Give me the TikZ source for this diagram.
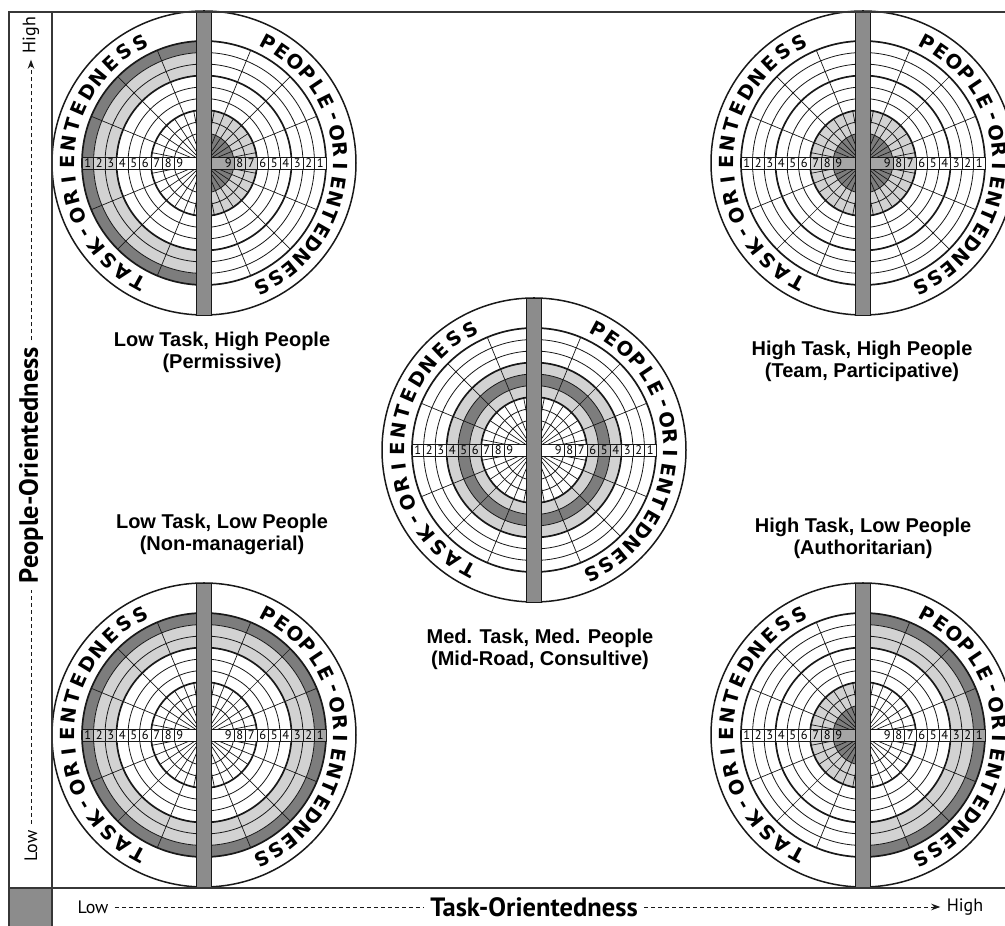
\documentclass[tikz,border=0pt]{standalone}
\usepackage{fontspec}
\setmainfont{Liberation Sans}
\newfontfamily\axisfont{PT Sans}
\newfontfamily\arcfont{DejaVu Sans}
\usepackage{tikz}
\usetikzlibrary{arrows.meta}
\definecolor{inkdark}{RGB}{25,25,25}
\definecolor{framegray}{RGB}{55,55,55}
\definecolor{ringdark}{RGB}{125,125,125}
\definecolor{ringlight}{RGB}{210,210,210}
\definecolor{barfill}{RGB}{140,140,140}
\definecolor{celldark}{RGB}{165,165,165}
\tikzset{
  frameline/.style={draw=framegray, line width=2.6pt},
  rimline/.style={draw=inkdark, line width=1.5pt},
  ringline/.style={draw=inkdark, line width=0.8pt},
  boldring/.style={draw=inkdark, line width=1.7pt},
  spoke/.style={draw=inkdark, line width=0.7pt},
  bandd/.style={fill=ringdark},
  bandl/.style={fill=ringlight},
  bandw/.style={fill=white},
  celld/.style={fill=celldark, draw=inkdark, line width=0.6pt},
  celll/.style={fill=ringlight, draw=inkdark, line width=0.6pt},
  cellw/.style={fill=white, draw=inkdark, line width=0.6pt},
  cellnum/.style={font=\axisfont\fontsize{12.5}{12.5}\selectfont, inner sep=0pt},
  scorebar/.style={fill=barfill, draw=inkdark, line width=0.6pt},
  arcletter/.style={font=\arcfont\bfseries\fontsize{19.5}{19.5}\selectfont, inner sep=0pt},
  caption/.style={font=\bfseries\fontsize{20}{22}\selectfont, align=center},
  axistitle/.style={font=\axisfont\bfseries\fontsize{26.5}{26.5}\selectfont},
  axisend/.style={font=\axisfont\fontsize{18}{18}\selectfont},
  dashaxis/.style={dashed, dash pattern=on 4pt off 3pt, line width=0.8pt,
    draw=inkdark, shorten <=3pt, shorten >=3pt},
  axisarrow/.style={-{Stealth[length=9pt, width=6.5pt]}},
  pics/wheel/.style 2 args={code={
    % disc
    \fill[white] (0,0) circle[radius=152pt];
    % task half
    \foreach \sh [count=\k] in {#1}{
      \pgfmathsetmacro\ro{122-11.5*(\k-1)}
      \pgfmathsetmacro\ri{\k<9 ? 122-11.5*\k : 0.01}
      \fill[band\sh] (90:\ro pt) arc[start angle=90, end angle=270, radius=\ro pt]
        -- (270:\ri pt) arc[start angle=270, end angle=90, radius=\ri pt] -- cycle;
    }
    % people half
    \foreach \sh [count=\k] in {#2}{
      \pgfmathsetmacro\ro{122-11.5*(\k-1)}
      \pgfmathsetmacro\ri{\k<9 ? 122-11.5*\k : 0.01}
      \fill[band\sh] (-90:\ro pt) arc[start angle=-90, end angle=90, radius=\ro pt]
        -- (90:\ri pt) arc[start angle=90, end angle=-90, radius=\ri pt] -- cycle;
    }
    % rings and spokes
    \foreach \r in {110.5,99,76,64.5,41.5,30}
      \draw[ringline] (0,0) circle[radius=\r pt];
    \foreach \r in {122,87.5,53}
      \draw[boldring] (0,0) circle[radius=\r pt];
    \foreach \a in {22.5,45,67.5,112.5,135,157.5,202.5,225,247.5,292.5,315,337.5}
      \draw[spoke] (0,0) -- (\a:122pt);
    \foreach \a in {11.25,33.75,56.25,78.75,101.25,123.75,146.25,168.75,
                    191.25,213.75,236.25,258.75,281.25,303.75,326.25,348.75}
      \draw[spoke] (0,0) -- (\a:53pt);
    \draw[rimline] (0,0) circle[radius=152pt];
    % numbered strip
    \foreach \sh [count=\k] in {#1}{
      \pgfmathsetmacro\ro{122-11.5*(\k-1)}
      \pgfmathsetmacro\ri{\k<9 ? 122-11.5*\k : 7.5}
      \pgfmathsetmacro\rm{\k<9 ? (\ro+\ri)/2 : 24.25}
      \filldraw[cell\sh] (-\ro pt,-6pt) rectangle (-\ri pt,6pt);
      \node[cellnum] (tnum\k) at (-\rm pt,0) {\k};
    }
    \foreach \sh [count=\k] in {#2}{
      \pgfmathsetmacro\ro{122-11.5*(\k-1)}
      \pgfmathsetmacro\ri{\k<9 ? 122-11.5*\k : 7.5}
      \pgfmathsetmacro\rm{\k<9 ? (\ro+\ri)/2 : 24.25}
      \filldraw[cell\sh] (\ri pt,-6pt) rectangle (\ro pt,6pt);
      \node[cellnum] (pnum\k) at (\rm pt,0) {\k};
    }
    % bar
    \filldraw[scorebar] (-7.5pt,-152pt) rectangle (7.5pt,152pt);
    % lettering
    \foreach \c [count=\i from 0] in {T,A,S,K,-,O,R,I,E,N,T,E,D,N,E,S,S}{
      \pgfmathsetmacro\a{241-7.6875*\i}
      \node[arcletter, rotate=\a-90] (tlet\i) at (\a:136.5pt) {\c};
    }
    \foreach \c [count=\i from 0] in {P,E,O,P,L,E,-,O,R,I,E,N,T,E,D,N,E,S,S}{
      \pgfmathsetmacro\a{62-7.0556*\i}
      \node[arcletter, rotate=\a-90] (plet\i) at (\a:136.5pt) {\c};
    }
  }}
}

\begin{document}
\begin{tikzpicture}[x=1pt, y=1pt]
  \useasboundingbox (0,0) rectangle (1005,926);
  \clip (0,0) rectangle (1005,926);
  \fill[white] (0,0) rectangle (1005,926);

  % wheels
  \pic (lowhigh) at (204,763) {wheel={d,l,l,w,w,w,w,w,w}{w,w,w,w,w,w,l,l,d}};
  \pic (highhigh) at (863,763) {wheel={w,w,w,w,w,w,l,l,d}{w,w,w,w,w,w,l,l,d}};
  \pic (medmed) at (534,476) {wheel={w,w,w,l,d,l,w,w,w}{w,w,w,l,d,l,w,w,w}};
  \pic (lowlow) at (204,191) {wheel={d,l,l,w,w,w,w,w,w}{d,l,l,w,w,w,w,w,w}};
  \pic (highlow) at (863,191) {wheel={w,w,w,w,w,w,l,l,d}{d,l,l,w,w,w,w,w,w}};

  % frame
  \fill[barfill] (9,0) rectangle (52,38);
  \draw[frameline] (9,0) -- (9,914) -- (1005,914);
  \draw[frameline] (52,0) -- (52,914);
  \draw[frameline] (9,38) -- (1005,38);

  % style captions
  \node[caption] (lowhighcap) at (222,574) {Low Task, High People\\(Permissive)};
  \node[caption] (highhighcap) at (862,565) {High Task, High People\\(Team, Participative)};
  \node[caption] (lowlowcap) at (222,392) {Low Task, Low People\\(Non-managerial)};
  \node[caption] (highlowcap) at (863,388) {High Task, Low People\\(Authoritarian)};
  \node[caption] (medmedcap) at (540,277) {Med. Task, Med. People\\(Mid-Road, Consultive)};

  % task axis
  \node[axisend] (tasklow) at (93,19) {Low};
  \node[axistitle] (tasktitle) at (534,19) {Task-Orientedness};
  \node[axisend] (taskhigh) at (965,19) {High};
  \draw[dashaxis] (tasklow) -- (tasktitle);
  \draw[dashaxis, axisarrow] (tasktitle) -- (taskhigh);

  % people axis
  \node[axisend, rotate=90] (peoplelow) at (31,80) {Low};
  \node[axistitle, rotate=90] (peopletitle) at (31,461) {People-Orientedness};
  \node[axisend, rotate=90] (peoplehigh) at (31,891) {High};
  \draw[dashaxis] (peoplelow) -- (peopletitle);
  \draw[dashaxis, axisarrow] (peopletitle) -- (peoplehigh);
\end{tikzpicture}
\end{document}
